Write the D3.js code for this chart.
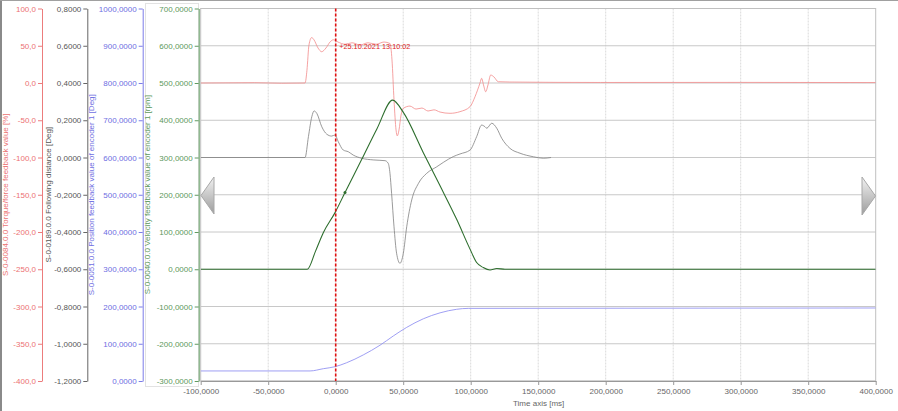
<!DOCTYPE html>
<html><head><meta charset="utf-8">
<script src="https://cdn.jsdelivr.net/npm/d3@7"></script>
<style>
html,body{margin:0;padding:0;background:#fff;overflow:hidden}
svg text{font-family:"Liberation Sans",Arial,sans-serif}
</style></head>
<body><svg id="c" width="898" height="411"></svg>
<script>
// ---------- DATA ----------
const xTickLabels = ["-100,0000","-50,0000","0,0000","50,0000","100,0000","150,0000","200,0000","250,0000","300,0000","350,0000","400,0000"];
const torqueTickLabels = ["100,0","50,0","0,0","-50,0","-100,0","-150,0","-200,0","-250,0","-300,0","-350,0","-400,0"];
const followTickLabels = ["0,8000","0,6000","0,4000","0,2000","0,0000","-0,2000","-0,4000","-0,6000","-0,8000","-1,0000","-1,2000"];
const positionTickLabels = ["1000,0000","900,0000","800,0000","700,0000","600,0000","500,0000","400,0000","300,0000","200,0000","100,0000","0,0000"];
const velocityTickLabels = ["700,0000","600,0000","500,0000","400,0000","300,0000","200,0000","100,0000","0,0000","-100,0000","-200,0000","-300,0000"];

const velocityTime =   [-100,-21,-15,-9.2,-0.5,6.9,19.3,30.4,42.2,50.1,64.9,77.3,89.6,99.5,104.4,109.3,114.3,119.3,125.4,400];
const velocityValues = [0,0,48,98,152,206,295,376,454,421,313,224,134,54,18,4.6,-2,2,0,0];

const torqueTime =   [-100,-60,-40,-22.7,-21.3,-19.8,-17.8,-16.1,-13.1,-10.4,-7.2,-4.2,-1.8,1.7,6.9,12.1,18,24,29.9,35.8,40.2,41.7,43.2,44.7,45.6,46.9,48.4,50.1,55,59.5,63.9,68.4,72.8,77.3,84.7,92,99.5,103.2,106.9,108.1,109.5,111.1,112.8,114.8,117.3,120.4,129,196,300,400];
const torqueValues = [0,0.4,-0.3,0,17,51,61,58,47,42,47,55,58,55,52,54,51,54,52,55,53,31,-23,-63,-71,-63,-43,-34,-31,-35,-33.6,-37.6,-36,-39,-40.7,-38.5,-31.8,-18.4,0,6.3,-2.7,-11.7,-2.7,10.7,8,1.7,1.3,0.7,0.8,0.6];

const followTime =   [-100,-22.7,-20.2,-17.7,-16.0,-14.0,-10.3,-6.6,-3.0,-0.5,1.9,5.6,9.3,13.0,19.2,27.8,36.5,38.9,40.2,41.4,43.2,45.1,47.6,50.1,52.6,56.3,61.3,67.4,74.8,80,87.1,92.1,99.5,104.4,108.1,110.6,111.9,115.6,119.3,123,129.1,136.5,146.4,153.8,159.5];
const followValues = [0,0,0.112,0.219,0.25,0.237,0.165,0.125,0.115,0.121,0.085,0.040,0.031,0.013,-0.004,-0.013,-0.017,-0.031,-0.085,-0.192,-0.372,-0.514,-0.568,-0.514,-0.372,-0.228,-0.139,-0.085,-0.05,-0.025,0.005,0.019,0.040,0.112,0.174,0.165,0.157,0.184,0.157,0.103,0.049,0.023,0.004,-0.004,0];

const positionTime =   [-100,-19,-9.2,-0.5,8.1,20.4,32.8,42.7,52.6,64.9,77.3,89.6,98.2,400];
const positionValues = [27,27,33,38.4,49,70,96,121,144,167,183,192.5,195,196];

const cursorTime = [0];
const cursorLabel = "+25.10.2021 13:10:02";
const markerTime = [6.9];
const markerValue = [206];

// ---------- LAYOUT ----------
const svg = d3.select("#c");
const L = 200.7, R = 875.7, T = 8.5, B = 381;
const parseLab = s => parseFloat(s.replace(",", "."));

const x = d3.scaleLinear().domain([-100,400]).range([L,R]);
const yVel = d3.scaleLinear().domain([-300,700]).range([B,T]);
const yTor = d3.scaleLinear().domain([-400,100]).range([B,T]);
const yFol = d3.scaleLinear().domain([-1.2,0.8]).range([B,T]);
const yPos = d3.scaleLinear().domain([0,1000]).range([B,T]);

// page border
svg.append("line").attr("x1",1).attr("x2",1).attr("y1",0).attr("y2",411).attr("stroke","#8a8a8a").attr("stroke-width",2);
svg.append("line").attr("x1",0).attr("x2",898).attr("y1",0.5).attr("y2",0.5).attr("stroke","#a0a0a0").attr("stroke-width",1);

// grid
const velVals = velocityTickLabels.map(parseLab);
const xVals = xTickLabels.map(parseLab);
svg.append("g").selectAll("line").data(xVals.slice(1,-1)).join("line")
  .attr("x1",d=>x(d)).attr("x2",d=>x(d)).attr("y1",T).attr("y2",B)
  .attr("stroke","#dadada").attr("stroke-width",1).attr("stroke-dasharray","2,1");
svg.append("g").selectAll("line").data(velVals).join("line")
  .attr("x1",L).attr("x2",R).attr("y1",d=>yVel(d)).attr("y2",d=>yVel(d))
  .attr("stroke","#c8c8c8").attr("stroke-width",1);
svg.append("rect").attr("x",L).attr("y",T).attr("width",R-L).attr("height",B-T)
  .attr("fill","none").attr("stroke","#c0c0c0");

// selected-axis dotted box
svg.append("rect").attr("x",145.5).attr("y",3.5).attr("width",53).attr("height",383)
  .attr("fill","none").attr("stroke","#c4c4c4").attr("stroke-dasharray","1,1");

// ---------- AXES ----------
function leftAxis(scale, labels, ax, color, textColor, minorStep) {
  const vals = labels.map(parseLab);
  const g = svg.append("g").attr("transform",`translate(${ax},0)`);
  const lo = d3.min(vals), hi = d3.max(vals);
  const minor = d3.range(lo, hi + minorStep/2, minorStep);
  g.call(d3.axisLeft(scale).tickValues(minor).tickFormat("").tickSize(2).tickSizeOuter(0));
  g.call(d3.axisLeft(scale).tickValues(vals).tickFormat((d,i)=>labels[i]).tickSize(4).tickPadding(2).tickSizeOuter(0));
  g.selectAll("path,line").attr("stroke",color);
  g.selectAll("text").attr("fill",textColor).attr("font-size","8px");
  return g;
}
leftAxis(yTor, torqueTickLabels, 42, "#ec7c7c", "#ec7272", 10);
leftAxis(yFol, followTickLabels, 87.3, "#666", "#555", 0.04);
leftAxis(yPos, positionTickLabels, 142.7, "#7c7ce8", "#6e6ee2", 20);
leftAxis(yVel, velocityTickLabels, 198.7, "#609a60", "#5c985c", 20);

// axis titles
const titles = [
  {x:5, text:"S-0-0084.0.0 Torque/force feedback value [%]", c:"#ec7272"},
  {x:48.5, text:"S-0-0189.0.0 Following distance [Deg]", c:"#555"},
  {x:91, text:"S-0-0051.0.0 Position feedback value of encoder 1 [Deg]", c:"#6e6ee2"},
  {x:147.5, text:"S-0-0040.0.0 Velocity feedback value of encoder 1 [rpm]", c:"#5c985c"}
];
titles.forEach(t=>{
  svg.append("text").attr("transform",`translate(${t.x},${(T+B)/2}) rotate(-90)`)
    .attr("text-anchor","middle").attr("dominant-baseline","central")
    .attr("font-size","8px").attr("fill",t.c).text(t.text);
});

// x axis
const gx = svg.append("g").attr("transform",`translate(0,${B})`);
gx.call(d3.axisBottom(x).tickValues(d3.range(-100,401,10)).tickFormat("").tickSize(2).tickSizeOuter(0));
gx.call(d3.axisBottom(x).tickValues(xVals).tickFormat((d,i)=>xTickLabels[i]).tickSize(4).tickPadding(3).tickSizeOuter(0));
gx.selectAll("path,line").attr("stroke","#999");
gx.selectAll("text").attr("fill","#666").attr("font-size","8px");
svg.append("text").attr("x",513).attr("y",406).attr("font-size","8px").attr("fill","#666").text("Time axis [ms]");

// ---------- SERIES ----------
svg.append("clipPath").attr("id","pc").append("rect").attr("x",L).attr("y",T).attr("width",R-L).attr("height",B-T);
const plot = svg.append("g").attr("clip-path","url(#pc)");
function series(ts, vs, ys, color, w) {
  const line = d3.line().x(d=>x(d[0])).y(d=>ys(d[1])).curve(d3.curveMonotoneX);
  plot.append("path").datum(ts.map((t,i)=>[t,vs[i]])).attr("d",line)
    .attr("fill","none").attr("stroke",color).attr("stroke-width",w);
}
series(positionTime, positionValues, yPos, "#9494f2", 0.9);
series(followTime, followValues, yFol, "#808080", 0.8);
series(torqueTime, torqueValues, yTor, "#f28a8a", 0.8);
series(velocityTime, velocityValues, yVel, "#2e6e2e", 1.1);
plot.selectAll("circle.m").data(markerTime).join("circle")
  .attr("cx",d=>x(d)).attr("cy",(d,i)=>yVel(markerValue[i])).attr("r",1.5).attr("fill","#2e6e2e");

// cursor
svg.selectAll("line.cur").data(cursorTime).join("line")
  .attr("x1",d=>x(d)).attr("x2",d=>x(d)).attr("y1",T).attr("y2",B)
  .attr("stroke","#e01010").attr("stroke-width",1.6).attr("stroke-dasharray","3,2");
svg.append("text").attr("x",x(cursorTime[0])+3.5).attr("y",48.5).attr("font-size","7.3px")
  .attr("fill","#e01a1a").text(cursorLabel);

// nav arrows
const defs = svg.append("defs");
const gr = defs.append("linearGradient").attr("id","ag").attr("x1",0).attr("y1",0).attr("x2",0).attr("y2",1);
gr.append("stop").attr("offset","0%").attr("stop-color","#f2f2f2");
gr.append("stop").attr("offset","100%").attr("stop-color","#9c9c9c");
svg.append("polygon").attr("points","201,195.5 214,177 214,214").attr("fill","url(#ag)").attr("stroke","#a8a8a8");
svg.append("polygon").attr("points","875.5,196 862,177 862,215").attr("fill","url(#ag)").attr("stroke","#a8a8a8");
</script></body></html>
